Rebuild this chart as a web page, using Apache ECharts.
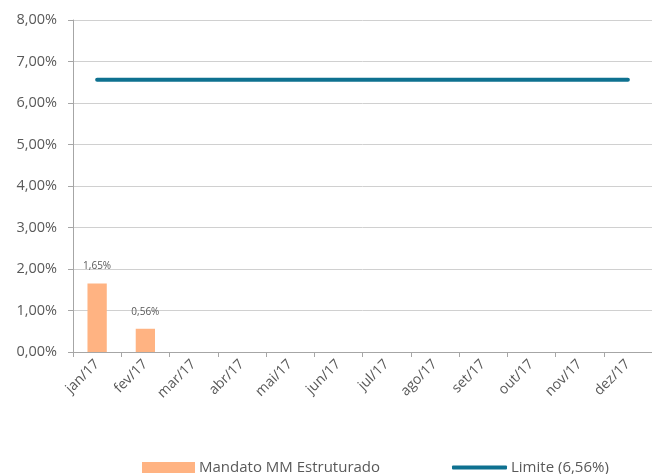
<!DOCTYPE html>
<html><head><meta charset="utf-8">
<script src="https://cdn.jsdelivr.net/npm/echarts@6/dist/echarts.min.js"></script>
<style>html,body{margin:0;padding:0;background:#fff}#c{width:652px;height:474px}</style>
</head><body><div id="c"></div>
<script>
const categories = ['jan/17','fev/17','mar/17','abr/17','mai/17','jun/17','jul/17','ago/17','set/17','out/17','nov/17','dez/17'];
const mandato = [1.65, 0.56, null, null, null, null, null, null, null, null, null, null];
const limite = [6.56, 6.56, 6.56, 6.56, 6.56, 6.56, 6.56, 6.56, 6.56, 6.56, 6.56, 6.56];
const barName = 'Mandato MM Estruturado';
const lineName = 'Limite (6,56%)';
const fmt = v => v.toFixed(2).replace('.', ',') + '%';

const chart = echarts.init(document.getElementById('c'), null, {renderer: 'canvas'});
chart.setOption({
  animation: false,
  textStyle: {fontFamily: 'Open Sans, DejaVu Sans, sans-serif'},
  grid: {left: 73, right: -1, top: 20, bottom: 122},
  legend: [
    {data: [barName], left: 137, top: 455, itemWidth: 53, itemHeight: 11, icon: 'rect',
     itemGap: 4, textStyle: {color: '#595959', fontSize: 15, padding: [0,0,0,-1]}},
    {data: [lineName], left: 447, top: 455, itemWidth: 55, itemHeight: 4, icon: 'roundRect',
     textStyle: {color: '#595959', fontSize: 15, padding: [0,0,0,-1]}}
  ],
  xAxis: {
    type: 'category', data: categories, boundaryGap: true,
    axisLine: {lineStyle: {color: '#A6A6A6', width: 1}},
    axisTick: {show: true, alignWithLabel: false, length: 5, lineStyle: {color: '#A6A6A6'}},
    axisLabel: {rotate: 45, color: '#595959', fontSize: 14, margin: 10, interval: 0}
  },
  yAxis: {
    type: 'value', min: 0, max: 8, interval: 1,
    axisLine: {show: true, lineStyle: {color: '#A6A6A6'}},
    axisTick: {show: true, length: 5, lineStyle: {color: '#A6A6A6'}},
    axisLabel: {color: '#595959', fontSize: 14.5, margin: 16, formatter: v => fmt(v)},
    splitLine: {lineStyle: {color: '#D0D0D0', width: 1}}
  },
  series: [
    {name: barName, type: 'bar', data: mandato, barWidth: '40%',
     itemStyle: {color: '#FFB382'},
     label: {show: true, position: 'top', distance: 12, color: '#595959', fontSize: 10,
             formatter: p => fmt(p.value)}},
    {name: lineName, type: 'line', data: limite, symbol: 'none',
     lineStyle: {color: '#0E7190', width: 4, cap: 'round'},
     itemStyle: {color: '#0E7190'}}
  ]
});
</script>
</body></html>
